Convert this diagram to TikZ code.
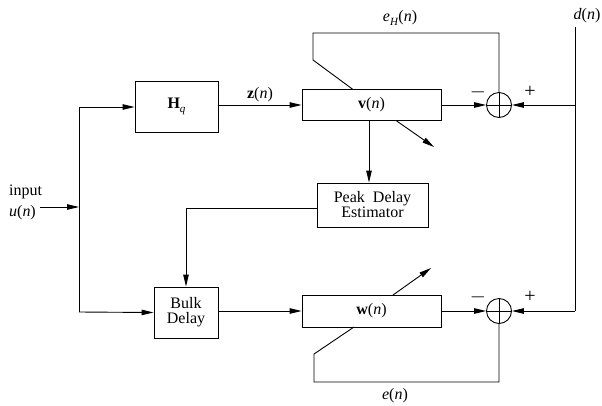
\documentclass[tikz,border=0pt]{standalone}
\usepackage{fontspec}
\setmainfont{Liberation Serif}
\usetikzlibrary{arrows.meta,calc}
\newcommand{\ital}[1]{\textit{#1}}
\newcommand{\mysub}[1]{\raisebox{-0.28em}{\fontsize{11}{11}\selectfont\textit{#1}}}
\begin{document}
\begin{tikzpicture}[x=1pt,y=-1pt,
  every node/.style={font=\fontsize{16}{15}\selectfont},
  blockbox/.style={draw,line width=0.9pt,inner sep=0pt,align=center},
  sumnode/.style={draw,circle,line width=0.9pt,minimum size=25pt,inner sep=0pt,
    path picture={\draw[line width=0.8pt] (path picture bounding box.north) -- (path picture bounding box.south)
      (path picture bounding box.west) -- (path picture bounding box.east);}},
  conn/.style={line width=0.9pt},
  arr/.style={conn,-{Triangle[length=12pt,width=5.5pt]}},
  lbl/.style={inner sep=0pt},
  sign/.style={inner sep=0pt,font=\fontsize{20}{20}\selectfont}]
\useasboundingbox (0,0) rectangle (602,405);
% blocks
\node[blockbox,minimum width=83pt,minimum height=51pt] (Hq) at (176.5,106.5) {\textbf{H}\mysub{q}};
\node[blockbox,minimum width=139pt,minimum height=31pt] (V) at (371.5,105) {\textbf{v}(\ital{n})};
\node[sumnode] (sT) at (499,105) {};
\node[blockbox,minimum width=111pt,minimum height=44pt] (PDE) at (372.5,205) {Peak\ \ Delay\\Estimator};
\node[blockbox,minimum width=64pt,minimum height=51pt] (BD) at (186,312.5) {Bulk\\Delay};
\node[blockbox,minimum width=139pt,minimum height=32pt] (W) at (371.5,311) {\textbf{w}(\ital{n})};
\node[sumnode] (sB) at (499,311) {};
% coordinates
\coordinate (uin) at (40,207);
\coordinate (J) at (79,207);
\coordinate (Jt) at (79,107);
\coordinate (Jb) at (79,312);
\coordinate (dtop) at (575,27);
\coordinate (dmid) at (575,105);
\coordinate (dbot) at (575,311);
\coordinate (pt) at (186,208);
\coordinate (vs) at (369,120.5);
\coordinate (vdt) at (396,120.5);
\coordinate (vdh) at (434,147);
\coordinate (wdt) at (393,295);
\coordinate (wdh) at (431,268);
\coordinate (fbT1) at (499,33);
\coordinate (fbT2) at (313,33);
\coordinate (fbT3) at (313,60);
\coordinate (fbT4) at (353,89.5);
\coordinate (fbB1) at (499,382);
\coordinate (fbB2) at (314,382);
\coordinate (fbB3) at (314,354);
\coordinate (fbB4) at (354,327);
% labels
\node[lbl] (inlbl) at (25.5,192) {input};
\node[lbl] (ulbl) at (22.5,213) {\ital{u}(\ital{n})};
\node[lbl] (zlbl) at (260,95) {\textbf{z}(\ital{n})};
\node[lbl] (eHlbl) at (400,18) {\ital{e}\mysub{H}(\ital{n})};
\node[lbl] (dlbl) at (587,16) {\ital{d}(\ital{n})};
\node[lbl] (elbl) at (395,396) {\ital{e}(\ital{n})};
\node[sign] (mT) at (478,92) {$-$};
\node[sign] (pT) at (530,92) {+};
\node[sign] (mB) at (478,297) {$-$};
\node[sign] (pB) at (530,297) {+};
% connectors
\draw[arr] (uin) -- (J);
\draw[conn] (Jt) -- (Jb);
\draw[arr] (Jt) -- (Jt -| Hq.west);
\draw[arr] (Jb) -- (BD.west);
\draw[arr] (Hq.east |- V.west) -- (V.west);
\draw[arr] (V.east) -- (sT.west);
\draw[conn] (dtop) -- (dbot);
\draw[arr] (dmid) -- (sT.east);
\draw[arr] (dbot) -- (sB.east);
\draw[arr] (vs) -- (vs |- PDE.north);
\draw[arr] (PDE.west |- pt) -- (pt) -- (BD.north);
\draw[arr] (BD.east |- W.west) -- (W.west);
\draw[arr] (W.east) -- (sB.west);
\draw[arr] (vdt) -- (vdh);
\draw[arr] (wdt) -- (wdh);
\draw[conn] (sT.north) -- (fbT1) -- (fbT2) -- (fbT3) -- (fbT4);
\draw[conn] (sB.south) -- (fbB1) -- (fbB2) -- (fbB3) -- (fbB4);
\end{tikzpicture}
\end{document}
